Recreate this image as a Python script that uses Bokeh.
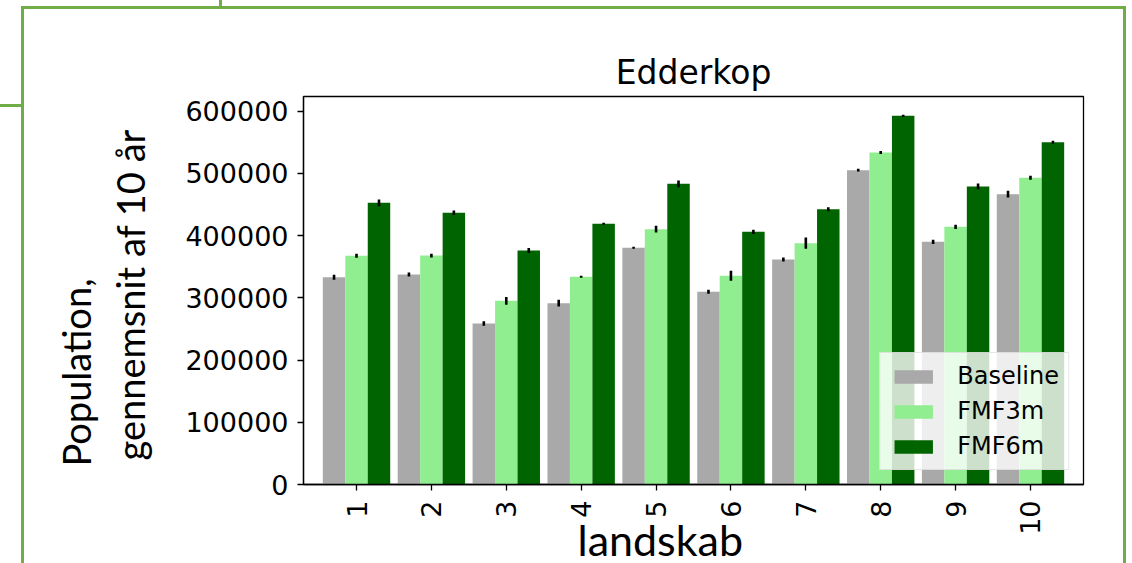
from math import pi
from bokeh.plotting import figure
from bokeh.models import (ColumnDataSource, Range1d, FixedTicker, NumeralTickFormatter,
                          Title, InlineStyleSheet)
from bokeh.transform import dodge
from bokeh.embed import file_html
from bokeh.resources import INLINE

# ---------------- data ----------------
landskab = [1, 2, 3, 4, 5, 6, 7, 8, 9, 10]
baseline = [333100, 337500, 258700, 291400, 380300, 309700, 361600, 505100, 390000, 466500]
fmf3m = [367500, 367800, 295200, 333700, 410300, 335300, 387800, 533500, 414100, 492800]
fmf6m = [452700, 436600, 376000, 418900, 483100, 406000, 442400, 592400, 478900, 550100]
baseline_err = [4000, 3200, 3500, 5400, 1600, 3200, 3200, 2100, 3500, 5400]
fmf3m_err = [3200, 3200, 6200, 1600, 5400, 8000, 9100, 2400, 3500, 3200]
fmf6m_err = [5400, 3700, 4000, 1600, 5400, 3500, 3200, 1900, 4600, 2400]
y_ticks = [0, 100000, 200000, 300000, 400000, 500000, 600000]
series_names = ["Baseline", "FMF3m", "FMF6m"]
series_colors = ["#a9a9a9", "#90ee90", "#006400"]
title_text = "Edderkop"
x_label = "landskab"
y_label_1 = "Population,"
y_label_2 = "gennemsnit af 10 år"

data = dict(landskab=landskab)
for name, vals, errs in zip(series_names, [baseline, fmf3m, fmf6m],
                            [baseline_err, fmf3m_err, fmf6m_err]):
    data[name] = vals
    data[name + "_lo"] = [v - e for v, e in zip(vals, errs)]
    data[name + "_hi"] = [v + e for v, e in zip(vals, errs)]
source = ColumnDataSource(data)

# ---------------- figure ----------------
p = figure(width=1132, height=563, output_backend="svg", toolbar_location=None,
           x_range=Range1d(0.292, 10.708), y_range=Range1d(0, 623500),
           min_border_left=303, min_border_right=49, min_border_top=96, min_border_bottom=79)
p.background_fill_color = "white"
p.border_fill_color = "white"
p.outline_line_color = "black"
p.outline_line_width = 1.3
p.xgrid.visible = False
p.ygrid.visible = False

p.title.text = title_text
p.title.align = "center"
p.title.text_font = "DejaVu Sans"
p.title.text_font_size = "33px"
p.title.text_font_style = "normal"
p.title.text_color = "black"
p.title.standoff = 10

offsets = [-0.3, 0.0, 0.3]
bar_w = 0.3
for name, color, off in zip(series_names, series_colors, offsets):
    p.vbar(x=dodge("landskab", off), top=name, bottom=0, width=bar_w, source=source,
           fill_color=color, line_color=None, legend_label=name)
for name, off in zip(series_names, offsets):
    p.segment(x0=dodge("landskab", off), x1=dodge("landskab", off),
              y0=name + "_lo", y1=name + "_hi", source=source,
              line_color="black", line_width=2.6)

for ax in (p.xaxis, p.yaxis):
    ax.axis_line_color = "black"
    ax.axis_line_width = 1.3
    ax.major_tick_line_color = "black"
    ax.major_tick_line_width = 1.3
    ax.major_tick_out = 6
    ax.major_tick_in = 0
    ax.minor_tick_line_color = None
    ax.major_label_text_font = "DejaVu Sans"
    ax.major_label_text_font_size = "27px"
    ax.major_label_text_color = "black"

p.xaxis.ticker = FixedTicker(ticks=landskab)
p.xaxis.major_label_orientation = pi / 2
p.xaxis.major_label_standoff = 10
p.yaxis.ticker = FixedTicker(ticks=y_ticks)
p.yaxis.formatter = NumeralTickFormatter(format="0")
p.yaxis.major_label_standoff = 9

lg = p.legend[0]
lg.location = "bottom_right"
lg.margin = 14
lg.padding = 9
lg.spacing = 7
lg.glyph_width = 48
lg.glyph_height = 17
lg.label_height = 28
lg.label_standoff = 20
lg.label_text_font = "DejaVu Sans"
lg.label_text_font_size = "24px"
lg.label_text_color = "black"
lg.background_fill_color = "white"
lg.background_fill_alpha = 0.8
lg.border_line_color = "#cccccc"
lg.border_line_width = 1

# axis labels as side titles (overlay-style text of the slide)
p.add_layout(Title(text=x_label, align="left", offset=274, standoff=-54,
                   text_font="Lato", text_font_size="43px", text_font_style="normal",
                   text_color="black"), "below")
p.add_layout(Title(text=y_label_2, align="left", offset=24, standoff=60,
                   text_font="Lato", text_font_size="38px", text_font_style="normal",
                   text_color="black"), "left")
p.add_layout(Title(text=y_label_1, align="left", offset=18, standoff=-49,
                   text_font="Lato", text_font_size="38px", text_font_style="normal",
                   text_color="black"), "left")

# slide frame lines (decoration around the pasted chart)
frame_css = """
:host::after {
  content: ""; position: absolute; left: 21px; top: 6px; width: 1105px; height: 557px;
  box-sizing: border-box; border-top: 3px solid #70ad47; border-left: 3px solid #70ad47;
  border-right: 3px solid #70ad47; pointer-events: none; z-index: 10;
}
:host::before {
  content: ""; position: absolute; left: 0px; top: 0px; width: 224px; height: 108px;
  background:
    linear-gradient(#70ad47, #70ad47) 0px 104px / 22px 3px no-repeat,
    linear-gradient(#70ad47, #70ad47) 219px 0px / 3px 7px no-repeat;
  pointer-events: none; z-index: 10;
}
"""
p.stylesheets = [InlineStyleSheet(css=frame_css)]

open("out.html", "w").write(file_html(p, INLINE))
